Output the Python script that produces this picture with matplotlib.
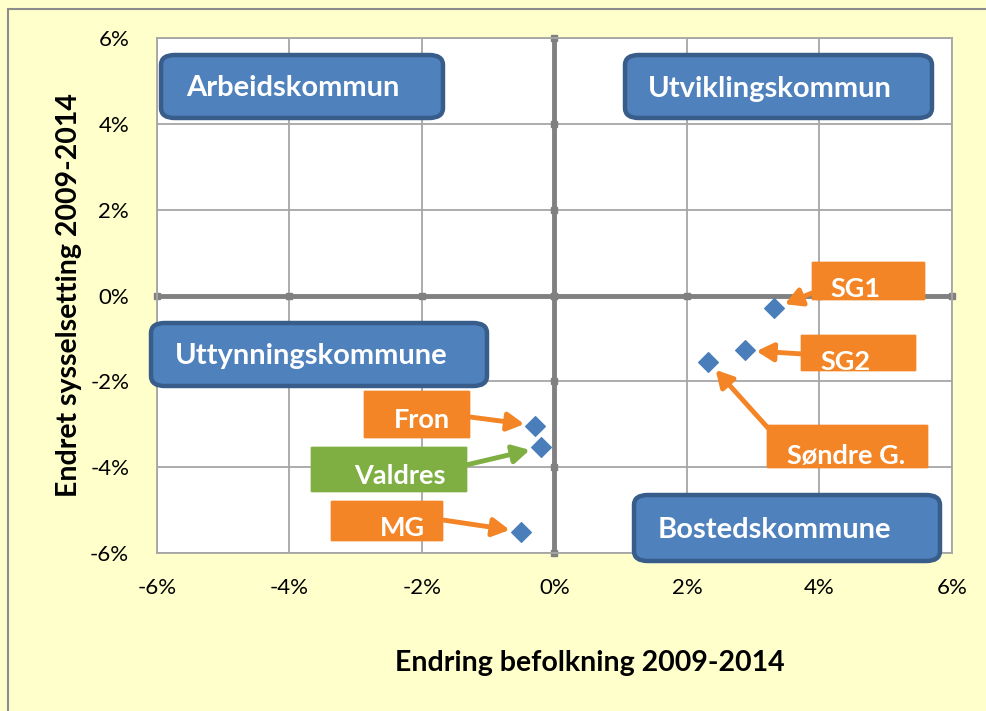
import matplotlib
matplotlib.use("Agg")
import matplotlib.pyplot as plt
from matplotlib.patches import FancyBboxPatch, Rectangle
from matplotlib.ticker import PercentFormatter

plt.rcParams['font.family'] = ['Lato', 'DejaVu Sans']
plt.rcParams['axes.unicode_minus'] = False

# Data (percent)
names = ["SG1", "SG2", "Søndre G.", "Fron", "Valdres", "MG"]
pop_change = [3.32, 2.88, 2.32, -0.29, -0.21, -0.51]
emp_change = [-0.30, -1.28, -1.54, -3.03, -3.54, -5.50]
ticks = [-6, -4, -2, 0, 2, 4, 6]
quadrants = ["Arbeidskommun", "Utviklingskommun", "Uttynningskommune", "Bostedskommune"]

W, H = 987, 711
fig = plt.figure(figsize=(W / 100, H / 100), dpi=100)
fig.patch.set_facecolor('#FFFFCC')
# outer border
fig.add_artist(Rectangle((8.5 / W, -0.1), 1.2, 1.1 - 8.5 / H, transform=fig.transFigure,
                         fill=False, edgecolor='#8C8C8C', lw=1.5))

L, R, T, B = 157, 952, 38, 553
ax = fig.add_axes([L / W, 1 - B / H, (R - L) / W, (B - T) / H])
ax.set_facecolor('white')
ax.set_xlim(-6, 6)
ax.set_ylim(-6, 6)
ax.set_xticks(ticks)
ax.set_yticks(ticks)
ax.xaxis.set_major_formatter(PercentFormatter(decimals=0))
ax.yaxis.set_major_formatter(PercentFormatter(decimals=0))
ax.grid(True, color='#A6A6A6', lw=1.3)
ax.set_axisbelow(True)
for s in ax.spines.values():
    s.set_color('#A6A6A6')
    s.set_linewidth(1.3)
ax.tick_params(length=0, labelsize=16, colors='black')
ax.tick_params(axis='x', pad=18)
ax.tick_params(axis='y', pad=20)
ax.axhline(0, color='#808080', lw=3.5, zorder=2)
ax.axvline(0, color='#808080', lw=3.5, zorder=2)
# tick stubs on zero axes
ax.plot(ticks, [0] * len(ticks), ls='none', marker='s', ms=5, color='#808080', zorder=2, clip_on=False)
ax.plot([0] * len(ticks), ticks, ls='none', marker='s', ms=5, color='#808080', zorder=2, clip_on=False)

ax.set_xlabel("Endring befolkning 2009-2014", fontsize=20.5, fontweight='bold', color='black')
ax.xaxis.set_label_coords((590 - L) / (R - L), (B - 650) / (B - T))
ax.set_ylabel("Endret sysselsetting 2009-2014", fontsize=20.5, fontweight='bold', labelpad=6, color='black')

ax.scatter(pop_change, emp_change, marker='D', s=100, color='#4A7EBB', zorder=5)


def px2fig(x, y):
    return x / W, 1 - y / H


def box(x0, y0, x1, y1, fc, ec, lw, rad):
    fx0, fy1 = px2fig(x0, y0)
    fx1, fy0 = px2fig(x1, y1)
    p = FancyBboxPatch((fx0, fy0), fx1 - fx0, fy1 - fy0,
                       boxstyle=f"round,pad=0,rounding_size={rad}",
                       transform=fig.transFigure, facecolor=fc, edgecolor=ec, lw=lw, zorder=6)
    fig.add_artist(p)


# quadrant boxes (pixel extents)
qboxes = [(161, 55, 443, 118, 186), (625, 55, 932, 118, 648),
          (151, 323, 487, 386, 175), (634, 495, 940, 561, 658)]
for name, (x0, y0, x1, y1, tx) in zip(quadrants, qboxes):
    box(x0, y0, x1, y1, '#4F81BD', '#385D8A', 3.2, 0.014)
    fx, fy = px2fig(tx, (y0 + y1) / 2 + 2)
    fig.text(fx, fy, name, color='white', fontsize=21, fontweight='bold', va='center', ha='left', zorder=7)

# label boxes: (x0, y0, x1, y1, text_cx, text_cy, color, arrow start px)
lboxes = [
    (812, 262, 925, 300, 855, 289, '#F38526', (812, 293)),
    (801, 335, 916, 371, 845, 362, '#F38526', (803, 354)),
    (767, 425, 928, 468, 846, 456, '#F38526', (768, 428)),
    (364, 391, 470, 438, 422, 420, '#F38526', (470, 417)),
    (311, 447, 467, 492, 400, 476, '#7FAF42', (466, 465)),
    (331, 501, 443, 541, 402, 528, '#F38526', (443, 520)),
]
for name, (x0, y0, x1, y1, tcx, tcy, c, st), px, py in zip(names, lboxes, pop_change, emp_change):
    box(x0, y0, x1, y1, c, c, 0.5, 0.001)
    fx, fy = px2fig(tcx, tcy)
    fig.text(fx, fy, name, color='white', fontsize=19.5, fontweight='bold', va='center', ha='center', zorder=7)
    sx, sy = px2fig(*st)
    ax.annotate('', xy=(px, py), xycoords='data', xytext=(sx, sy), textcoords='figure fraction',
                arrowprops=dict(arrowstyle='-|>,head_length=1.0,head_width=0.55', color=c, lw=3.5,
                                shrinkA=0, shrinkB=8), zorder=6)

fig.savefig("out.png", dpi=100, facecolor=fig.get_facecolor())
